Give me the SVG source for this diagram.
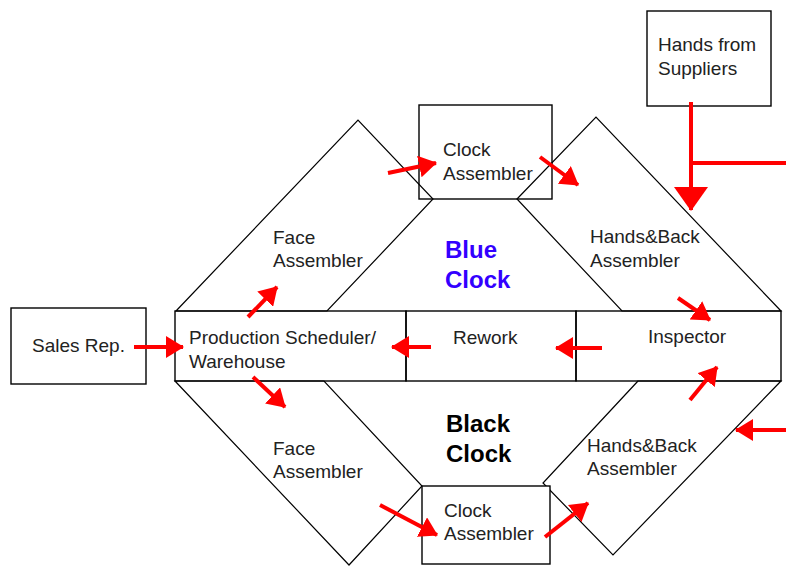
<svg xmlns="http://www.w3.org/2000/svg" width="786" height="566" viewBox="0 0 786 566">
<defs>
<style>
.sh{fill:none;stroke:#000;stroke-width:1.2}
.bx{fill:none;stroke:#000;stroke-width:1.4}
.t{font-family:"Liberation Sans",Arial,sans-serif;font-size:19px;fill:#222}
.b{font-family:"Liberation Sans",Arial,sans-serif;font-size:24px;font-weight:bold}
.ar{stroke:#ff0000;stroke-width:4;fill:none;marker-end:url(#ah)}
</style>
<marker id="ah" viewBox="0 0 18 22" refX="17" refY="11" markerWidth="18" markerHeight="22" markerUnits="userSpaceOnUse" orient="auto">
<path d="M0,0 L18,11 L0,22 Z" fill="#ff0000"/>
</marker>
<marker id="ahL" viewBox="0 0 24 34" refX="23" refY="17" markerWidth="24" markerHeight="34" markerUnits="userSpaceOnUse" orient="auto">
<path d="M0,0 L24,17 L0,34 Z" fill="#ff0000"/>
</marker>
</defs>
<rect width="786" height="566" fill="#fff"/>

<g id="face-top">
<polygon class="sh" points="176,311 358,120 433,199 327,311"/>
<text class="t" x="273" y="244">Face</text>
<text class="t" x="273" y="267">Assembler</text>
</g>
<g id="handsback-top">
<polygon class="sh" points="517,199 596,117 781,311 622,311"/>
<text class="t" x="590" y="243">Hands&amp;Back</text>
<text class="t" x="590" y="267">Assembler</text>
</g>
<g id="clock-top">
<rect class="bx" x="419" y="105" width="133" height="94"/>
<text class="t" x="443" y="156">Clock</text>
<text class="t" x="443" y="180">Assembler</text>
</g>
<g id="suppliers">
<rect class="bx" x="647" y="11" width="124" height="95"/>
<text class="t" x="658" y="51">Hands from</text>
<text class="t" x="658" y="75">Suppliers</text>
</g>
<g id="blue-clock">
<text class="b" x="445" y="258" fill="#3300ff">Blue</text>
<text class="b" x="445" y="288" fill="#3300ff">Clock</text>
</g>
<g id="sales-rep">
<rect class="bx" x="11" y="308" width="135" height="76"/>
<text class="t" x="32" y="352">Sales Rep.</text>
</g>
<g id="production">
<rect class="bx" x="175" y="311" width="231" height="70"/>
<text class="t" x="189" y="344">Production Scheduler/</text>
<text class="t" x="189" y="368">Warehouse</text>
</g>
<g id="rework">
<rect class="bx" x="406" y="311" width="170" height="70"/>
<text class="t" x="453" y="344">Rework</text>
</g>
<g id="inspector">
<rect class="bx" x="576" y="311" width="205" height="70"/>
<text class="t" x="648" y="343">Inspector</text>
</g>
<g id="face-bottom">
<polygon class="sh" points="175,381 324,381 422,486 349,565"/>
<text class="t" x="273" y="455">Face</text>
<text class="t" x="273" y="478">Assembler</text>
</g>
<g id="handsback-bottom">
<polygon class="sh" points="638,381 543,483 613,555 781,381"/>
<text class="t" x="587" y="452">Hands&amp;Back</text>
<text class="t" x="587" y="475">Assembler</text>
</g>
<g id="black-clock">
<text class="b" x="446" y="432" fill="#000">Black</text>
<text class="b" x="446" y="462" fill="#000">Clock</text>
</g>
<g id="clock-bottom">
<rect x="422" y="486" width="128" height="78" fill="#fff" stroke="#000" stroke-width="1.4"/>
<text class="t" x="444" y="517">Clock</text>
<text class="t" x="444" y="540">Assembler</text>
</g>

<g id="connectors">
<line class="ar" x1="134" y1="347" x2="183" y2="347"/>
<line class="ar" x1="248" y1="317" x2="277" y2="287"/>
<line class="ar" x1="388" y1="173" x2="436" y2="163"/>
<line class="ar" x1="540" y1="157" x2="578" y2="185"/>
<line x1="691" y1="163" x2="786" y2="163" stroke="#ff0000" stroke-width="4"/>
<line x1="691" y1="102" x2="691" y2="210" stroke="#ff0000" stroke-width="4" marker-end="url(#ahL)"/>
<line class="ar" x1="678" y1="298" x2="710" y2="320"/>
<line class="ar" x1="602" y1="348" x2="556" y2="348"/>
<line class="ar" x1="431" y1="347" x2="392" y2="347"/>
<line class="ar" x1="253" y1="377" x2="285" y2="407"/>
<line class="ar" x1="380" y1="505" x2="437" y2="535"/>
<line class="ar" x1="545" y1="537" x2="588" y2="503"/>
<line class="ar" x1="690" y1="400" x2="717" y2="367"/>
<line class="ar" x1="786" y1="430" x2="736" y2="430"/>
</g>
</svg>
